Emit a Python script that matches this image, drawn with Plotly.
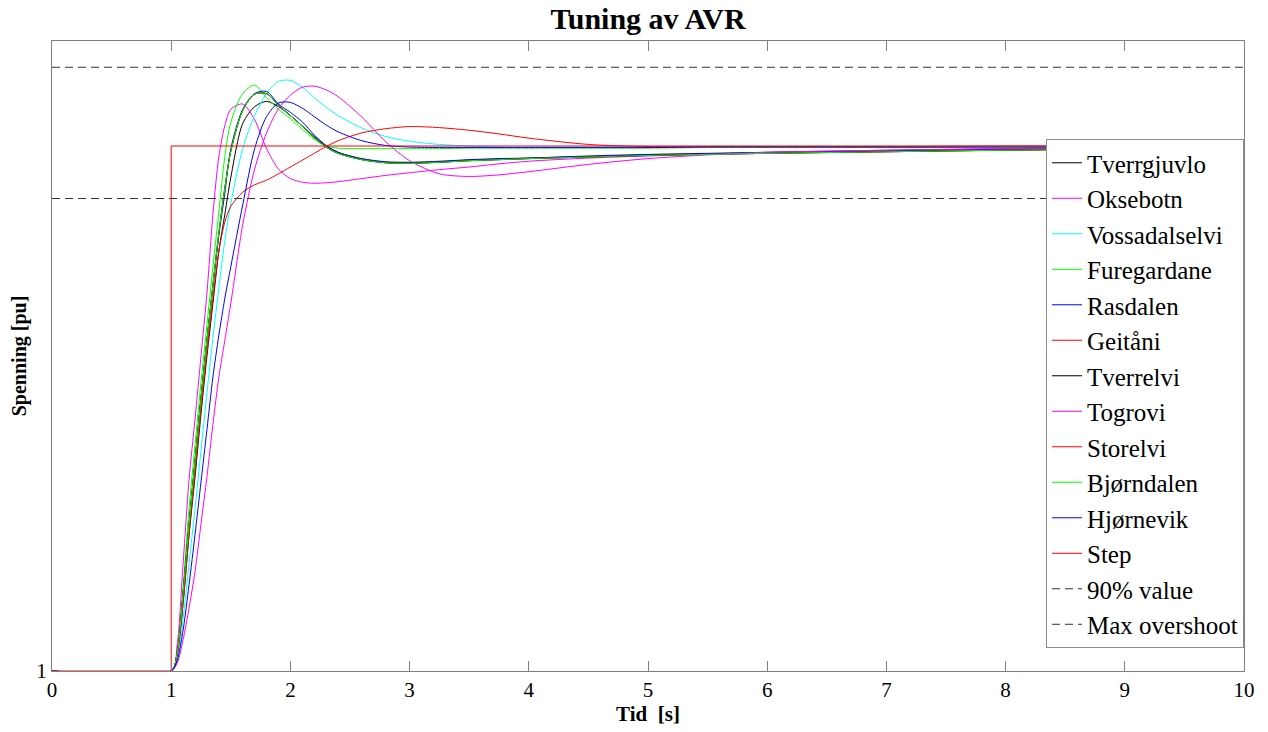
import plotly.graph_objects as go

# time grid (s) used for all generator responses
t = [0, 1.0, 1.05, 1.1, 1.15, 1.2, 1.25, 1.3, 1.35, 1.4, 1.45, 1.5, 1.6, 1.7, 1.8, 1.9,
     2.0, 2.1, 2.2, 2.3, 2.4, 2.6, 2.8, 3.0, 3.25, 3.5, 3.75, 4.0, 4.5, 5.0, 5.5, 6.0,
     7.0, 8.0, 9.0, 10.0]

tverrgjuvlo = [1.0, 1.0, 1.0015, 1.0065, 1.013, 1.0185, 1.0245, 1.03, 1.035, 1.04, 1.0435, 1.047,
               1.05215, 1.05375, 1.05425, 1.05375, 1.0529, 1.0519, 1.0509, 1.05, 1.0494, 1.04875,
               1.04845, 1.0484, 1.0485, 1.04865, 1.04875, 1.04885, 1.049, 1.04915, 1.04925,
               1.04935, 1.0495, 1.04965, 1.04975, 1.04985]
oksebotn = [1.0, 1.0, 1.0025, 1.01025, 1.01825, 1.024, 1.03, 1.036, 1.0435, 1.049, 1.05195, 1.0535,
            1.054, 1.0525, 1.04975, 1.0478, 1.0469, 1.04655, 1.04645, 1.0465, 1.0466, 1.0469,
            1.0472, 1.04745, 1.04775, 1.048, 1.0483, 1.04855, 1.04885, 1.04905, 1.04925, 1.0494,
            1.0496, 1.04975, 1.04985, 1.0499]
vossadalselvi = [1.0, 1.0, 1.001, 1.005, 1.01025, 1.0155, 1.021, 1.0265, 1.03175, 1.0365, 1.041,
                 1.0445, 1.04975, 1.0529, 1.055, 1.05615, 1.05625, 1.0556, 1.0546, 1.0537, 1.0529,
                 1.0517, 1.0509, 1.05045, 1.05015, 1.05, 1.0499, 1.0499, 1.0499, 1.0499, 1.0499,
                 1.0499, 1.0499, 1.0499, 1.0499, 1.0499]
furegardane = [1.0, 1.0, 1.00175, 1.008, 1.0155, 1.0215, 1.0275, 1.033, 1.0385, 1.04375, 1.049,
               1.05225, 1.055, 1.0558, 1.0546, 1.0535, 1.0526, 1.0516, 1.05065, 1.05, 1.0498,
               1.04975, 1.04975, 1.04975, 1.04975, 1.0498, 1.0498, 1.0498, 1.0498, 1.0498,
               1.04985, 1.04985, 1.04985, 1.0499, 1.0499, 1.0499]
rasdalen = [1.0, 1.0, 1.00175, 1.0075, 1.014, 1.02, 1.026, 1.0315, 1.0365, 1.0415, 1.0455, 1.04975,
            1.0535, 1.055, 1.0552, 1.054, 1.0532, 1.0523, 1.05105, 1.05005, 1.0494, 1.0488, 1.0485,
            1.04845, 1.04855, 1.0487, 1.0488, 1.04885, 1.04905, 1.0492, 1.0493, 1.0494, 1.04955,
            1.0497, 1.0498, 1.04985]
geitaani = [1.0, 1.0, 1.00175, 1.0075, 1.014, 1.02, 1.026, 1.0315, 1.03675, 1.04175, 1.046,
            1.0495, 1.0534, 1.05495, 1.05495, 1.0539, 1.0529, 1.0519, 1.0508, 1.0499, 1.0493,
            1.0487, 1.0484, 1.04835, 1.04845, 1.0486, 1.0487, 1.0488, 1.04895, 1.0491, 1.0492,
            1.0493, 1.04945, 1.0496, 1.0497, 1.0498]
tverrelvi = [1.0, 1.0, 1.00175, 1.0075, 1.014, 1.02, 1.026, 1.0315, 1.03675, 1.04175, 1.046,
             1.0495, 1.0534, 1.05495, 1.055, 1.0539, 1.0529, 1.0519, 1.0508, 1.0499, 1.0493,
             1.0487, 1.0484, 1.04835, 1.04845, 1.0486, 1.0487, 1.0488, 1.04895, 1.0491, 1.0492,
             1.0493, 1.04945, 1.0496, 1.0497, 1.0498]
togrovi = [1.0, 1.0, 1.00075, 1.003, 1.006, 1.0095, 1.014, 1.0185, 1.0235, 1.028, 1.0315, 1.035,
           1.0425, 1.0478, 1.05125, 1.05355, 1.05485, 1.0556, 1.0557, 1.05535, 1.0547, 1.05275,
           1.0504, 1.0486, 1.04735, 1.0471, 1.04725, 1.04755, 1.04825, 1.0488, 1.04915, 1.0494,
           1.0496, 1.04975, 1.04985, 1.0499]
storelvi = [1.0, 1.0, 1.0015, 1.0065, 1.013, 1.019, 1.025, 1.0305, 1.0355, 1.04, 1.04275, 1.04425,
            1.0456, 1.0463, 1.04675, 1.04735, 1.048, 1.04865, 1.0493, 1.04995, 1.0505, 1.05125,
            1.05165, 1.05185, 1.05175, 1.0515, 1.05115, 1.05075, 1.05015, 1.04995, 1.04995,
            1.04995, 1.04995, 1.05, 1.05, 1.05]
bjorndalen = [1.0, 1.0, 1.00175, 1.0075, 1.014, 1.02, 1.026, 1.0315, 1.03675, 1.04175, 1.046,
              1.0495, 1.0534, 1.05495, 1.055, 1.0539, 1.0529, 1.0519, 1.0508, 1.0499, 1.0493,
              1.0487, 1.0484, 1.04835, 1.04845, 1.0486, 1.0487, 1.0488, 1.04895, 1.0491, 1.0492,
              1.0493, 1.04945, 1.0496, 1.0497, 1.0498]
hjornevik = [1.0, 1.0, 1.001, 1.0039, 1.00825, 1.013, 1.018, 1.023, 1.028, 1.032, 1.0355, 1.0385,
             1.0444, 1.04975, 1.0528, 1.0541, 1.05415, 1.0536, 1.0528, 1.052, 1.05135, 1.0505,
             1.05005, 1.0499, 1.04985, 1.04985, 1.04985, 1.04985, 1.04985, 1.04985, 1.0499,
             1.0499, 1.0499, 1.0499, 1.0499, 1.0499]

step_t = [0, 1, 1, 10]
step_v = [1.0, 1.0, 1.05, 1.05]
ref_t = [0, 10]
value_90 = 1.045
max_overshoot = 1.0575

names = ["Tverrgjuvlo", "Oksebotn", "Vossadalselvi", "Furegardane", "Rasdalen", "Geitåni",
         "Tverrelvi", "Togrovi", "Storelvi", "Bjørndalen", "Hjørnevik"]
series = [tverrgjuvlo, oksebotn, vossadalselvi, furegardane, rasdalen, geitaani,
          tverrelvi, togrovi, storelvi, bjorndalen, hjornevik]
colors = ["#000000", "#ff00ff", "#00ffff", "#00ff00", "#0000ff", "#ff0000",
          "#000000", "#ff00ff", "#ff0000", "#00ff00", "#0000ff"]

FONT = "Liberation Serif, Times New Roman, serif"

fig = go.Figure()
for n, s, c in zip(names, series, colors):
    fig.add_trace(go.Scatter(x=t, y=s, name=n, mode="lines",
                             line=dict(color=c, width=1, shape="spline", smoothing=0.8)))
fig.add_trace(go.Scatter(x=step_t, y=step_v, name="Step", mode="lines",
                         line=dict(color="#ff0000", width=1)))
fig.add_trace(go.Scatter(x=ref_t, y=[value_90, value_90], name="90% value", mode="lines",
                         line=dict(color="#333333", width=1, dash="8px,5px")))
fig.add_trace(go.Scatter(x=ref_t, y=[max_overshoot, max_overshoot], name="Max overshoot",
                         mode="lines", line=dict(color="#333333", width=1, dash="8px,5px")))

# the html page adds an 8px body margin, so margins are offset to keep the plot area in place
fig.update_layout(
    width=1268, height=732,
    margin=dict(l=44, r=32, t=33, b=69, autoexpand=False),
    paper_bgcolor="white", plot_bgcolor="white",
    font=dict(family=FONT, color="#000000"),
    title=dict(text="<b>Tuning av AVR</b>", x=0.5, xref="paper", y=1 - 10 / 732, yref="container",
               xanchor="center", yanchor="middle", font=dict(size=30, family=FONT)),
    legend=dict(x=1.0, xanchor="right", y=0.8444, yanchor="top",
                bgcolor="white", bordercolor="#8c8c8c", borderwidth=1,
                font=dict(size=25, family=FONT), tracegroupgap=0, itemwidth=30),
    showlegend=True,
)
fig.update_xaxes(range=[0, 10], tickvals=list(range(11)), ticks="inside", ticklen=10,
                 tickcolor="#808080", showline=True, linecolor="#808080", linewidth=1,
                 mirror="ticks", showgrid=False, zeroline=False, automargin=False,
                 tickfont=dict(size=21, family=FONT),
                 title=dict(text="<b>Tid\u00a0 [s]</b>", font=dict(size=21, family=FONT), standoff=4))
fig.update_yaxes(range=[1, 1.06], tickvals=[1], ticktext=["1"], ticks="inside", ticklen=10,
                 tickcolor="#808080", showline=True, linecolor="#808080", linewidth=1,
                 mirror="ticks", showgrid=False, zeroline=False, automargin=False,
                 tickfont=dict(size=21, family=FONT),
                 title=dict(text="<b>Spenning [pu]</b>", font=dict(size=20, family=FONT), standoff=12))

fig.write_html("out.html")
